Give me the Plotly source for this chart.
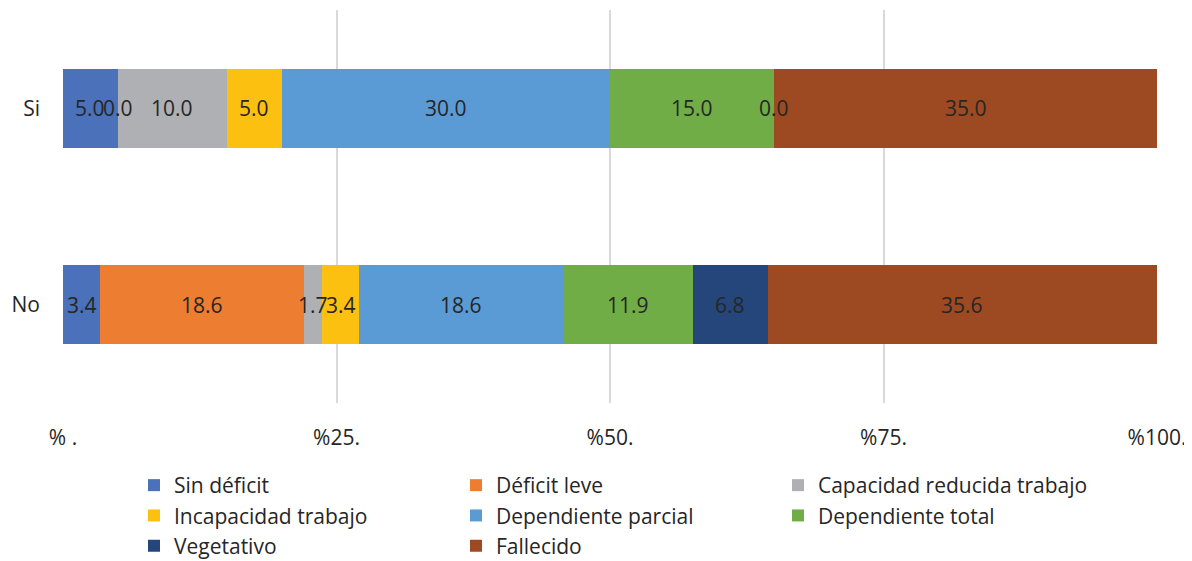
import plotly.graph_objects as go

categories = ["Si", "No"]
series_names = ["Sin déficit", "Déficit leve", "Capacidad reducida trabajo", "Incapacidad trabajo",
                "Dependiente parcial", "Dependiente total", "Vegetativo", "Fallecido"]
si_values = [5.0, 0.0, 10.0, 5.0, 30.0, 15.0, 0.0, 35.0]
no_values = [3.4, 18.6, 1.7, 3.4, 18.6, 11.9, 6.8, 35.6]
colors = ["#4A71B9", "#ED7D31", "#AFB0B4", "#FCC010", "#5B9BD5", "#70AD47", "#24467A", "#9D4A22"]
tick_vals = [0, 25, 50, 75, 100]
tick_text = ["% .", "%25.", "%50.", "%75.", "%100."]

FONT = "Open Sans"
TXT = "#262626"

fig = go.Figure()
for i, name in enumerate(series_names):
    fig.add_trace(go.Bar(
        y=categories, x=[si_values[i], no_values[i]], name=name, orientation="h",
        marker=dict(color=colors[i], line=dict(width=0)), width=0.4,
        hoverinfo="x+name",
    ))

annotations = []
for cat, vals in zip(categories, [si_values, no_values]):
    cum = 0.0
    for v in vals:
        annotations.append(dict(x=cum + v / 2, y=cat, xref="x", yref="y", text=f"{v:.1f}",
                                showarrow=False, font=dict(family=FONT, size=21, color=TXT)))
        cum += v

# the page body adds an 8px offset, so the figure is 8px smaller each way
fig.update_layout(
    barmode="stack",
    width=1184, height=553,
    margin=dict(l=55, r=35, t=2, b=158, autoexpand=False),
    paper_bgcolor="white", plot_bgcolor="white",
    font=dict(family=FONT, size=21, color=TXT),
    annotations=annotations,
    legend=dict(orientation="h", xref="container", yref="container",
                x=0.1064, xanchor="left", y=0.1736, yanchor="top",
                entrywidth=277, traceorder="normal", font=dict(size=21, family=FONT, color=TXT),
                itemclick=False, tracegroupgap=0),
    showlegend=True,
)
fig.update_xaxes(range=[0, 100], tickvals=tick_vals, ticktext=tick_text, showgrid=True,
                 gridcolor="#D9D9D9", gridwidth=2, zeroline=False, showline=False,
                 ticklabelstandoff=20, tickfont=dict(size=21), automargin=False)
fig.update_yaxes(autorange="reversed", showgrid=False, showline=False, zeroline=False,
                 ticklabelstandoff=22, tickfont=dict(size=21), automargin=False)

fig.write_html("out.html")
